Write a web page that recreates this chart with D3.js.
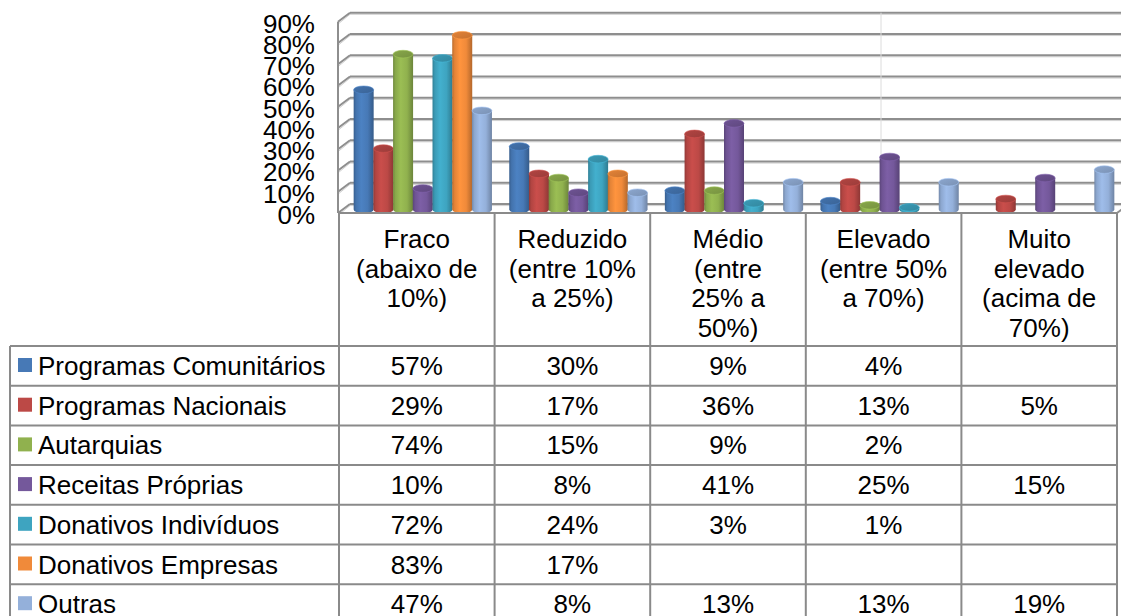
<!DOCTYPE html>
<html>
<head>
<meta charset="utf-8">
<script src="https://cdn.jsdelivr.net/npm/d3@7"></script>
<style>
  html, body { margin: 0; padding: 0; background: #fff; }
  svg { display: block; font-family: "Liberation Sans", Arial, sans-serif; }
</style>
</head>
<body>
<svg id="chart" width="1121" height="616"></svg>
<script>
// ---- Data ----
const categories = [
  "Fraco\n(abaixo de\n10%)",
  "Reduzido\n(entre 10%\na 25%)",
  "Médio\n(entre\n25% a\n50%)",
  "Elevado\n(entre 50%\na 70%)",
  "Muito\nelevado\n(acima de\n70%)"
];
const seriesNames = [
  "Programas Comunitários",
  "Programas Nacionais",
  "Autarquias",
  "Receitas Próprias",
  "Donativos Indivíduos",
  "Donativos Empresas",
  "Outras"
];
const programasComunitarios = [57, 30, 9, 4, null];
const programasNacionais    = [29, 17, 36, 13, 5];
const autarquias            = [74, 15, 9, 2, null];
const receitasProprias      = [10, 8, 41, 25, 15];
const donativosIndividuos   = [72, 24, 3, 1, null];
const donativosEmpresas     = [83, 17, null, null, null];
const outras                = [47, 8, 13, 13, 19];
const yTicks = [0, 10, 20, 30, 40, 50, 60, 70, 80, 90];

const seriesColors = ["#4779b6", "#bc4946", "#90b14e", "#74589b", "#3ea4c0", "#f08a3a", "#94b0da"];

const seriesValues = [programasComunitarios, programasNacionais, autarquias,
  receitasProprias, donativosIndividuos, donativosEmpresas, outras];
const series = seriesNames.map((name, i) => ({ name, values: seriesValues[i], color: seriesColors[i] }));

// ---- Layout ----
const svg = d3.select("#chart");
const tableLeft = 339, tableRight = 1117, legendLeft = 10;
const floorY = 213;             // front edge of the floor / top of the table
const depthX = 12, depthY = -9; // oblique offset from front plane to back wall
const fontSize = 26;

const x = d3.scaleBand().domain(d3.range(categories.length)).range([tableLeft, tableRight]);
const xs = d3.scaleBand().domain(d3.range(series.length)).range([-69, 69]);
const yFront = d3.scaleLinear().domain([0, 90]).range([floorY, 21.7]);
const yBar = d3.scaleLinear().domain([0, 90]).range([209.5, 20.5]);

// ---- Walls and gridlines ----
const grid = svg.append("g");
const wallLeft = 338;
yTicks.forEach(v => {
  const yf = yFront(v), yb = yf + depthY;
  // lighter under-stroke gives each gridline some thickness
  grid.append("line").attr("x1", wallLeft + 1).attr("y1", yf + 1.6).attr("x2", wallLeft + depthX).attr("y2", yb + 1.6)
    .attr("stroke", "#d0d0d0").attr("stroke-width", 1);
  grid.append("line").attr("x1", wallLeft + depthX).attr("y1", yb + 1.6).attr("x2", 1121).attr("y2", yb + 1.6)
    .attr("stroke", "#d0d0d0").attr("stroke-width", 1);
  grid.append("line").attr("x1", wallLeft).attr("y1", yf).attr("x2", wallLeft + depthX).attr("y2", yb)
    .attr("stroke", "#8e8e8e").attr("stroke-width", 2);
  grid.append("line").attr("x1", wallLeft + depthX).attr("y1", yb).attr("x2", 1121).attr("y2", yb)
    .attr("stroke", "#8e8e8e").attr("stroke-width", 2);
});
grid.append("line").attr("x1", wallLeft).attr("y1", yFront(90)).attr("x2", wallLeft).attr("y2", floorY)
  .attr("stroke", "#8e8e8e").attr("stroke-width", 2);
grid.append("line").attr("x1", 881).attr("y1", yFront(90) + depthY).attr("x2", 881).attr("y2", floorY + depthY)
  .attr("stroke", "#dcdcdc").attr("stroke-width", 1);
grid.append("line").attr("x1", tableRight).attr("y1", floorY).attr("x2", tableRight + depthX).attr("y2", floorY + depthY)
  .attr("stroke", "#8e8e8e").attr("stroke-width", 2);

// ---- Y axis labels ----
const axis = svg.append("g").attr("transform", "translate(315,0)")
  .call(d3.axisLeft(yFront).tickValues(yTicks).tickFormat(d => d + "%").tickSize(0).tickPadding(0));
axis.select(".domain").remove();
axis.selectAll("text").attr("font-size", fontSize).attr("font-family", "Liberation Sans, Arial, sans-serif")
  .attr("fill", "#000").attr("dy", "0.4em");

// ---- Cylinder gradients ----
const defs = svg.append("defs");
series.forEach((s, i) => {
  const c = d3.color(s.color);
  const g = defs.append("linearGradient").attr("id", "cyl" + i).attr("x1", 0).attr("x2", 1).attr("y1", 0).attr("y2", 0);
  g.append("stop").attr("offset", 0).attr("stop-color", c.darker(0.7));
  g.append("stop").attr("offset", 0.12).attr("stop-color", c.darker(0.15));
  g.append("stop").attr("offset", 0.38).attr("stop-color", c.brighter(0.2));
  g.append("stop").attr("offset", 0.7).attr("stop-color", c);
  g.append("stop").attr("offset", 1).attr("stop-color", c.darker(0.8));
  const t = defs.append("linearGradient").attr("id", "top" + i).attr("x1", 0).attr("x2", 1).attr("y1", 0).attr("y2", 1);
  t.append("stop").attr("offset", 0).attr("stop-color", c.darker(0.15));
  t.append("stop").attr("offset", 1).attr("stop-color", c.darker(0.55));
});

// ---- Cylinders ----
const rx = 10, ry = 3.8;
const bars = svg.append("g");
categories.forEach((cat, j) => {
  series.forEach((s, i) => {
    const v = s.values[j];
    if (v == null) return;
    const cx = x(j) + x.bandwidth() / 2 + depthX / 2 + xs(i) + xs.bandwidth() / 2;
    const yb = yBar(0), yt = yBar(v);
    const gBar = bars.append("g");
    gBar.append("path")
      .attr("d", `M${cx - rx},${yt} L${cx - rx},${yb} A${rx},${ry} 0 0 0 ${cx + rx},${yb} L${cx + rx},${yt} Z`)
      .attr("fill", `url(#cyl${i})`);
    gBar.append("ellipse").attr("cx", cx).attr("cy", yt).attr("rx", rx).attr("ry", ry)
      .attr("fill", `url(#top${i})`).attr("stroke", d3.color(s.color).brighter(0.3)).attr("stroke-width", 0.6);
  });
});

// ---- Data table ----
const rowTop = 346, rowH = 39.7;
const table = svg.append("g");
const lineColor = "#8a8a8a";
table.append("line").attr("x1", wallLeft).attr("x2", tableRight).attr("y1", floorY).attr("y2", floorY)
  .attr("stroke", lineColor).attr("stroke-width", 2);
d3.range(series.length + 1).forEach(r => {
  const y = rowTop + r * rowH;
  table.append("line").attr("x1", legendLeft).attr("x2", tableRight).attr("y1", y).attr("y2", y)
    .attr("stroke", lineColor).attr("stroke-width", 2);
});
d3.range(categories.length).forEach(j => {
  table.append("line").attr("x1", x(j)).attr("x2", x(j)).attr("y1", floorY).attr("y2", 620)
    .attr("stroke", lineColor).attr("stroke-width", 2);
});
table.append("line").attr("x1", tableRight).attr("x2", tableRight).attr("y1", floorY).attr("y2", 620)
  .attr("stroke", lineColor).attr("stroke-width", 2);
table.append("line").attr("x1", legendLeft).attr("x2", legendLeft).attr("y1", rowTop).attr("y2", 620)
  .attr("stroke", lineColor).attr("stroke-width", 2);

// category headers
categories.forEach((cat, j) => {
  const t = table.append("text").attr("text-anchor", "middle").attr("font-size", fontSize).attr("fill", "#000");
  cat.split("\n").forEach((line, k) => {
    t.append("tspan").attr("x", x(j) + x.bandwidth() / 2).attr("y", 248 + k * 29.6).text(line);
  });
});

// legend keys and values
series.forEach((s, i) => {
  const top = rowTop + i * rowH;
  table.append("rect").attr("x", 18).attr("y", top + 12).attr("width", 14).attr("height", 14).attr("fill", s.color);
  table.append("text").attr("x", 38).attr("y", top + 29).attr("font-size", fontSize).attr("fill", "#000").text(s.name);
  s.values.forEach((v, j) => {
    if (v == null) return;
    table.append("text").attr("x", x(j) + x.bandwidth() / 2).attr("y", top + 29)
      .attr("text-anchor", "middle").attr("font-size", fontSize).attr("fill", "#000").text(v + "%");
  });
});
</script>
</body>
</html>
